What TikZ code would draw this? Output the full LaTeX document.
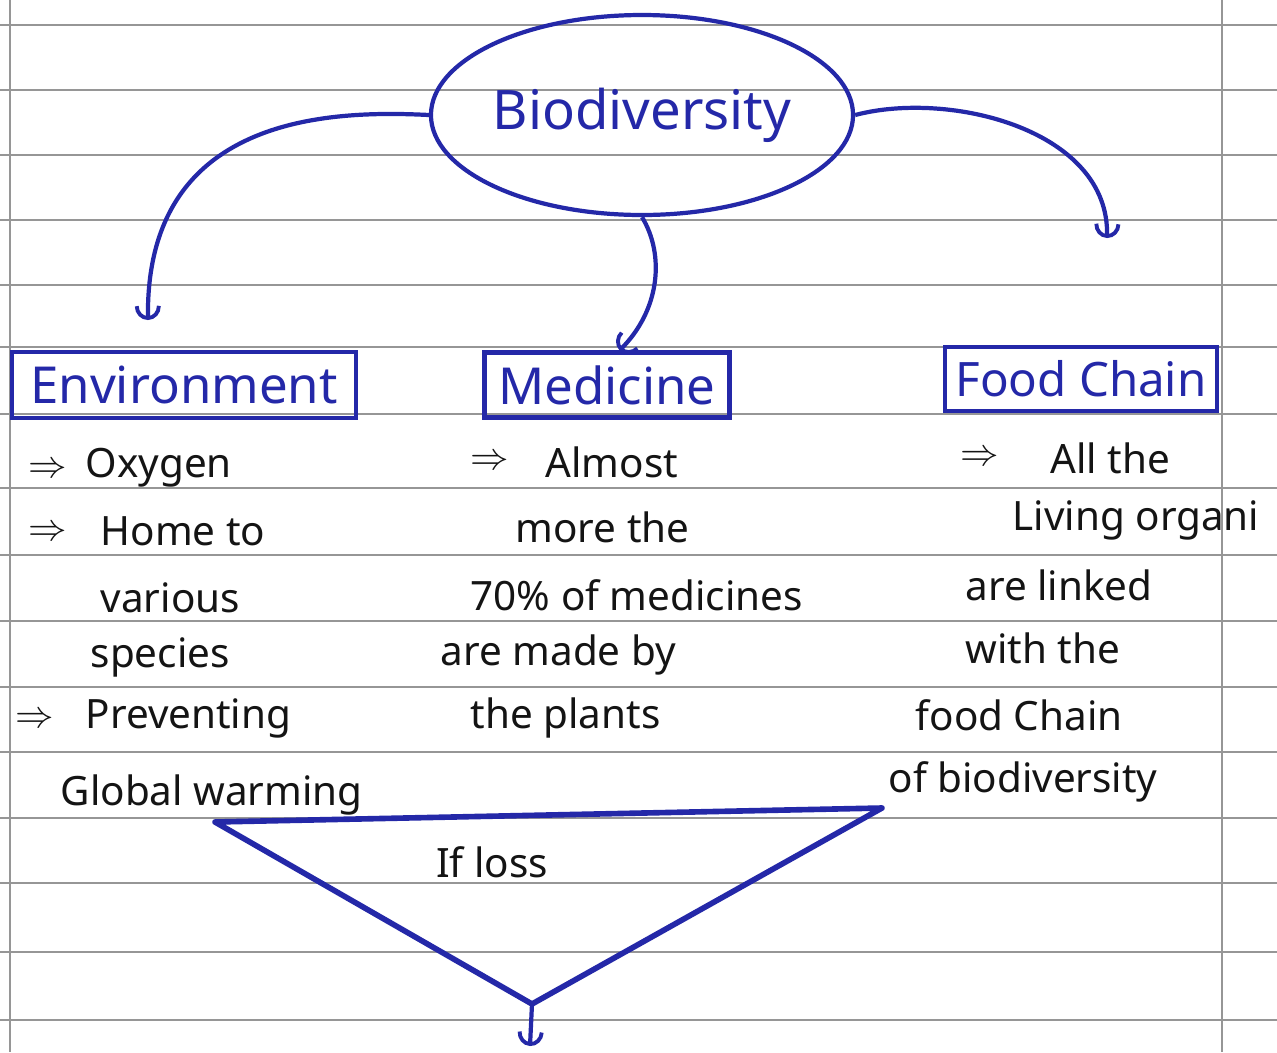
\documentclass[tikz,border=0pt]{standalone}
\usepackage{fontspec}
\setmainfont{Noto Sans}
\usetikzlibrary{shapes.geometric,arrows.meta}
\definecolor{ink}{RGB}{36,40,168}
\definecolor{pencil}{RGB}{20,20,20}
\definecolor{ruling}{RGB}{150,150,150}

\begin{document}
\begin{tikzpicture}[x=0.1mm, y=-0.1mm,
  rule/.style  ={draw=ruling, line width=0.5pt},
  topic/.style ={draw=ink, line width=1.2pt, text=ink, font=\fontsize{14.5}{17}\selectfont,
                 inner sep=0pt},
  link/.style  ={draw=ink, line width=1.2pt, -{Arc Barb[length=1.4mm,width=2.6mm,line width=1.1pt]}},
  note/.style  ={text=pencil, anchor=west, inner sep=0pt, font=\fontsize{11.5}{14}\selectfont},
  bul/.style   ={text=pencil, anchor=west, inner sep=0pt, font=\fontsize{11}{13}\selectfont}]

  \useasboundingbox (0,0) rectangle (1277,1052);
  \fill[white] (0,0) rectangle (1277,1052);

  % ---------------- notebook ruling ----------------
  \foreach \y in {25,90,155,220,285,347,414,488,555,621,687,752,818,883,952,1020}
    \draw[rule] (0,\y) -- (1277,\y);
  \draw[rule] (10,0) -- (10,1052);
  \draw[rule] (1222,0) -- (1222,1052);

  % ---------------- centre topic ----------------
  \node[topic, ellipse, minimum width=41mm, minimum height=20mm,
        font=\fontsize{15.5}{18}\selectfont] (bio) at (642,115) {Biodiversity};

  % ---------------- branches ----------------
  \node[topic, minimum width=34.4mm, minimum height=6.6mm] (env)  at (184,385) {Environment};
  \node[topic, minimum width=24.5mm, minimum height=6.5mm] (med)  at (607,385) {Medicine};
  \node[topic, minimum width=27.2mm, minimum height=6.4mm,
        font=\fontsize{13.5}{16}\selectfont] (food) at (1081,379) {Food Chain};

  \coordinate (envtip)  at (148,320);
  \coordinate (foodtip) at (1107,238);

  \draw[link] (bio.west) .. controls (330,110) and (145,115) .. (envtip);
  \draw[link] (bio.south) .. controls (665,255) and (660,310) .. (med.70);
  \draw[link] (bio.east) .. controls (950,90) and (1110,130) .. (foodtip);

  % ---------------- environment notes ----------------
  \node[bul]  (b1) at (28,470) {$\Rightarrow$};
  \node[note] (e1) at (85,468) {Oxygen};
  \node[bul]  (b2) at (28,533) {$\Rightarrow$};
  \node[note] (e2) at (100,531) {Home to};
  \node[note] (e3) at (100,598) {various};
  \node[note] (e4) at (90,657) {species};
  \node[bul]  (b3) at (15,720) {$\Rightarrow$};
  \node[note] (e5) at (85,718) {Preventing};
  \node[note] (e6) at (60,795) {Global warming};

  % ---------------- medicine notes ----------------
  \node[bul]  (b4) at (470,462) {$\Rightarrow$};
  \node[note] (m1) at (545,462) {Almost};
  \node[note] (m2) at (515,527) {more the};
  \node[note] (m3) at (470,595) {70\% of medicines};
  \node[note] (m4) at (440,655) {are made by};
  \node[note] (m5) at (470,718) {the plants};

  % ---------------- food chain notes ----------------
  \node[bul]  (b5) at (960,458) {$\Rightarrow$};
  \node[note] (f1) at (1050,458) {All the};
  \node[note] (f2) at (1012,520) {Living organi};
  \node[note] (f3) at (965,585) {are linked};
  \node[note] (f4) at (965,648) {with the};
  \node[note] (f5) at (915,715) {food Chain};
  \node[note] (f6) at (888,782) {of biodiversity};

  % ---------------- loss funnel ----------------
  \coordinate (tl) at (215,822);
  \coordinate (tr) at (882,808);
  \coordinate (tb) at (532,1004);
  \draw[ink, line width=1.6pt, line join=round] (tl) -- (tr) -- (tb) -- cycle;
  \node[note, anchor=center] (loss) at (492,862) {If loss};
  \coordinate (losstip) at (530,1046);
  \draw[link] (tb) -- (losstip);
\end{tikzpicture}
\end{document}
